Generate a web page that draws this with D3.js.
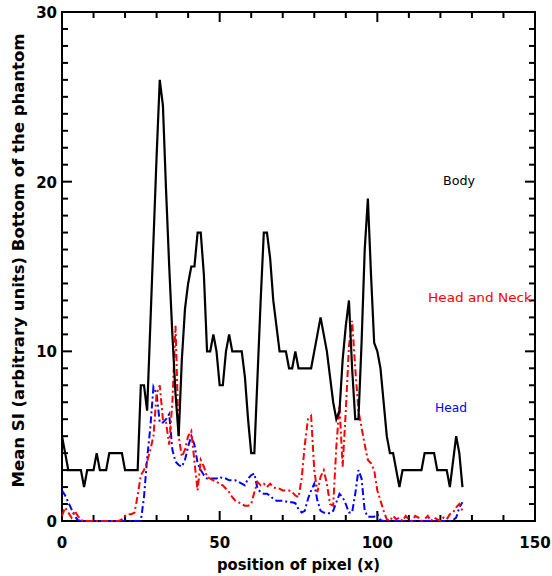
<!DOCTYPE html>
<html lang="en">
<head>
  <meta charset="UTF-8">
  <title>Mean SI - bottom of the phantom</title>
  <script src="https://cdnjs.cloudflare.com/ajax/libs/d3/7.8.5/d3.min.js"></script>
  <style>
    body { margin: 0; background: #fff; }
  </style>
</head>
<body>
  <script>
    // mean signal along the pixel row, one value per pixel (0..127)
    const body = [5,4,3,3,3,3,3,2,3,3, 3,4,3,3,3,4,4,4,4,4,
      3,3,3,3,3,8,8,6.5,11.5,16.5, 21.5,26,24.5,19.5,15,11,7.5,5,9.5,12.5,
      14,15,15,17,17,14.5,10,10,11,10, 8,8,10,11,10,10,10,10,8.5,6,
      4,4,8.5,13,17,17,15.5,13,11.5,10, 10,10,9,9,10,9,9,9,9,9,
      10,11,12,11,10,8.5,7,6,6.5,9.5, 11.5,13,9,6,6,10.5,16,19,14.5,10.5,
      10,9,7,5,4,4,3,2,3,3, 3,3,3,3,3,4,4,4,4,3,
      3,3,3,2,3.5,5,4,2];
    const headNeck = [0.3,0.8,0.5,0.2,0.6,0.3,0.05,0,0,0, 0,0,0,0,0,0,0,0,0,0.1,
      0.3,0.4,0.4,0.5,1.5,2.7,3.0,3.5,4.2,5.0, 7.5,8.0,6.0,5.8,4.5,7.0,11.5,5.0,3.8,4.2,
      5.0,5.3,3.5,1.8,3.6,3.2,2.6,2.5,2.4,2.3, 2.2,2.1,1.9,1.7,1.4,1.2,1.1,1.0,0.9,0.9,
      1.0,1.7,2.3,2.1,2.2,2.0,2.2,2.0,1.9,1.9, 1.8,1.8,1.8,1.7,1.5,1.4,2.5,4.5,6.0,6.2,
      3.0,1.7,2.6,3.0,2.2,1.0,0.9,4.4,6.8,3.2, 6.5,10.3,11.8,9.0,6.5,5.5,4.5,3.6,3.4,3.0,
      1.8,1.2,0.6,0.1,0,0.3,0.1,0.2,0,0.3, 0.1,0,0.3,0.2,0,0.1,0.3,0,0.2,0.1,
      0,0.2,0.1,0.4,0.5,0.8,1.0,0.6];
    const head = [1.8,1.5,1.1,0.7,0.3,0.05,0,0,0,0, 0,0,0,0,0,0,0,0,0,0,
      0,0,0,0,0,0,1.4,3.7,5.5,7.9, 7.5,5.8,5.8,6.0,6.3,4.2,3.5,3.3,3.2,3.6,
      4.4,5.0,4.5,3.4,3.0,2.7,2.5,2.5,2.5,2.5, 2.6,2.5,2.5,2.4,2.4,2.4,2.3,2.2,2.1,2.5,
      2.7,2.8,1.9,1.7,1.6,1.6,1.5,1.3,1.2,1.2, 1.2,1.15,1.1,1.1,1.05,0.7,0.5,0.6,1.3,1.8,
      2.2,1.2,0.6,0.5,0.45,0.45,0.6,1.1,1.6,1.4, 1.0,0.5,0.5,1.6,3.0,2.5,0.6,0.25,0.25,0.25,
      0.4,0.05,0,0,0,0,0,0,0,0, 0,0,0,0,0,0,0,0,0,0,
      0,0,0,0,0.05,0.2,0.8,1.1];
    const pixels = d3.range(body.length);

    const xTicks = [0, 50, 100, 150];
    const xMinor = [10, 20, 30, 40, 60, 70, 80, 90, 110, 120, 130, 140];
    const yTicks = [0, 10, 20, 30];
    const yMinor = [1,2,3,4,5,6,7,8,9, 11,12,13,14,15,16,17,18,19, 21,22,23,24,25,26,27,28,29];

    const series = [
      { name: "Body", values: body, color: "#000", dash: null, width: 2.2 },
      { name: "Head and Neck", values: headNeck, color: "#f00", dash: "7,3,2,3", width: 2 },
      { name: "Head", values: head, color: "#00f", dash: "7,3,2,3", width: 2 }
    ];
    const labels = [
      { text: "Body", color: "#000", x: 443, y: 185, len: 32 },
      { text: "Head and Neck", color: "#f00", x: 428, y: 302, len: 104 },
      { text: "Head", color: "#00f", x: 435, y: 412, len: 32 }
    ];

    const W = 552, H = 576;
    const m = { left: 62, right: 535, top: 12, bottom: 521 };
    const font = "DejaVu Sans, sans-serif";

    const svg = d3.select("body").append("svg")
      .attr("width", W).attr("height", H);

    const x = d3.scaleLinear().domain([0, 150]).range([m.left, m.right]);
    const y = d3.scaleLinear().domain([0, 30]).range([m.bottom, m.top]);

    // ticks on all four sides, pointing inwards (IDL box style)
    const ticks = svg.append("g").attr("stroke", "#000").attr("stroke-width", 2);
    function xTickLines(vals, len) {
      ticks.selectAll(null).data(vals).enter().append("line")
        .attr("x1", d => x(d)).attr("x2", d => x(d))
        .attr("y1", m.bottom).attr("y2", m.bottom - len);
      ticks.selectAll(null).data(vals).enter().append("line")
        .attr("x1", d => x(d)).attr("x2", d => x(d))
        .attr("y1", m.top).attr("y2", m.top + len);
    }
    function yTickLines(vals, len) {
      ticks.selectAll(null).data(vals).enter().append("line")
        .attr("y1", d => y(d)).attr("y2", d => y(d))
        .attr("x1", m.left).attr("x2", m.left + len);
      ticks.selectAll(null).data(vals).enter().append("line")
        .attr("y1", d => y(d)).attr("y2", d => y(d))
        .attr("x1", m.right).attr("x2", m.right - len);
    }
    xTickLines(xTicks, 10);
    xTickLines(xMinor, 6);
    yTickLines(yTicks, 10);
    yTickLines(yMinor, 6);

    // tick labels
    svg.append("g").selectAll("text").data(xTicks).enter().append("text")
      .attr("x", d => x(d)).attr("y", 548)
      .attr("text-anchor", "middle")
      .attr("font-family", font).attr("font-weight", "bold").attr("font-size", 15)
      .text(d3.format("d"));
    svg.append("g").selectAll("text").data(yTicks).enter().append("text")
      .attr("x", 57).attr("y", d => y(d) + 6)
      .attr("text-anchor", "end")
      .attr("font-family", font).attr("font-weight", "bold").attr("font-size", 15)
      .text(d3.format("d"));

    svg.append("rect")
      .attr("x", m.left).attr("y", m.top)
      .attr("width", m.right - m.left).attr("height", m.bottom - m.top)
      .attr("fill", "none").attr("stroke", "#000").attr("stroke-width", 2);

    // data lines
    const line = d3.line().x((d, i) => x(pixels[i])).y(d => y(d));
    svg.selectAll(".series")
      .data(series.slice().reverse())
      .enter().append("path")
      .attr("class", "series")
      .attr("d", d => line(d.values))
      .attr("fill", "none")
      .attr("stroke", d => d.color)
      .attr("stroke-width", d => d.width)
      .attr("stroke-dasharray", d => d.dash)
      .attr("stroke-linejoin", "miter");

    // in-plot labels
    svg.selectAll(".lbl")
      .data(labels)
      .enter().append("text")
      .attr("x", d => d.x).attr("y", d => d.y)
      .attr("fill", d => d.color)
      .attr("font-family", font)
      .attr("font-size", 12)
      .attr("textLength", d => d.len).attr("lengthAdjust", "spacingAndGlyphs")
      .text(d => d.text);

    // axis titles
    svg.append("text")
      .attr("x", (m.left + m.right) / 2).attr("y", 570)
      .attr("text-anchor", "middle")
      .attr("font-family", font)
      .attr("font-weight", "bold").attr("font-size", 15)
      .attr("textLength", 163).attr("lengthAdjust", "spacingAndGlyphs")
      .text("position of pixel (x)");
    svg.append("text")
      .attr("transform", `translate(24,${(m.top + m.bottom) / 2 - 6}) rotate(-90)`)
      .attr("text-anchor", "middle")
      .attr("font-family", font)
      .attr("font-weight", "bold").attr("font-size", 15)
      .attr("textLength", 454).attr("lengthAdjust", "spacingAndGlyphs")
      .text("Mean SI (arbitrary units) Bottom of the phantom");
  </script>
</body>
</html>
